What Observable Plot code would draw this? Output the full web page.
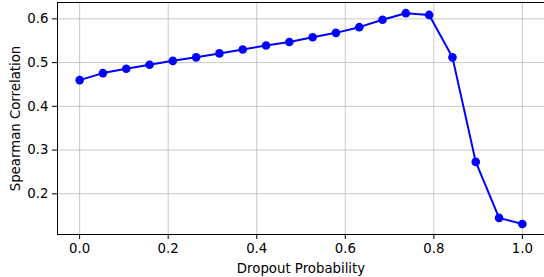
<!DOCTYPE html>
<html>
<head>
<meta charset="utf-8">
<script src="https://cdn.jsdelivr.net/npm/d3@7"></script>
<script src="https://cdn.jsdelivr.net/npm/@observablehq/plot@0.6"></script>
<style>
  html, body { margin: 0; padding: 0; background: #fff; }
  svg { font-family: "DejaVu Sans", sans-serif; }
</style>
</head>
<body>
<div id="chart"></div>
<script>
const dropout = [0.0, 0.0526, 0.1053, 0.1579, 0.2105, 0.2632, 0.3158, 0.3684, 0.4211, 0.4737,
                 0.5263, 0.5789, 0.6316, 0.6842, 0.7368, 0.7895, 0.8421, 0.8947, 0.9474, 1.0];
const spearman = [0.460, 0.476, 0.486, 0.495, 0.504, 0.512, 0.521, 0.530, 0.539, 0.547,
                  0.558, 0.568, 0.581, 0.598, 0.613, 0.609, 0.512, 0.273, 0.145, 0.131];
const xTicks = [0.0, 0.2, 0.4, 0.6, 0.8, 1.0];
const yTicks = [0.2, 0.3, 0.4, 0.5, 0.6];

const data = dropout.map((d, i) => ({x: d, y: spearman[i]}));

const chart = Plot.plot({
  width: 544,
  height: 277,
  marginLeft: 57,
  marginRight: 0,
  marginTop: 2,
  marginBottom: 43,
  style: {fontFamily: "DejaVu Sans, sans-serif", fontSize: "13.3px", color: "#000", background: "#fff"},
  x: {domain: [-0.05, 1.05]},
  y: {domain: [0.107, 0.6374]},
  marks: [
    Plot.gridX(xTicks, {stroke: "#b0b0b0", strokeOpacity: 0.7, strokeWidth: 1}),
    Plot.gridY(yTicks, {stroke: "#b0b0b0", strokeOpacity: 0.7, strokeWidth: 1}),
    Plot.axisX({ticks: xTicks, tickFormat: d3.format(".1f"), tickSize: 5, tickPadding: 4,
      fontSize: 13.3, label: "Dropout Probability", labelAnchor: "center", labelOffset: 38, labelArrow: "none"}),
    Plot.axisY({ticks: yTicks, tickFormat: d3.format(".1f"), tickSize: 5, tickPadding: 4,
      fontSize: 13.3, label: "Spearman Correlation", labelAnchor: "center", labelOffset: 47, labelArrow: "none"}),
    Plot.frame({stroke: "#000", strokeWidth: 1}),
    Plot.line(data, {x: "x", y: "y", stroke: "#0000ff", strokeWidth: 2}),
    Plot.dot(data, {x: "x", y: "y", fill: "#0000ff", r: 4.3})
  ]
});
document.getElementById("chart").appendChild(chart);
</script>
</body>
</html>
